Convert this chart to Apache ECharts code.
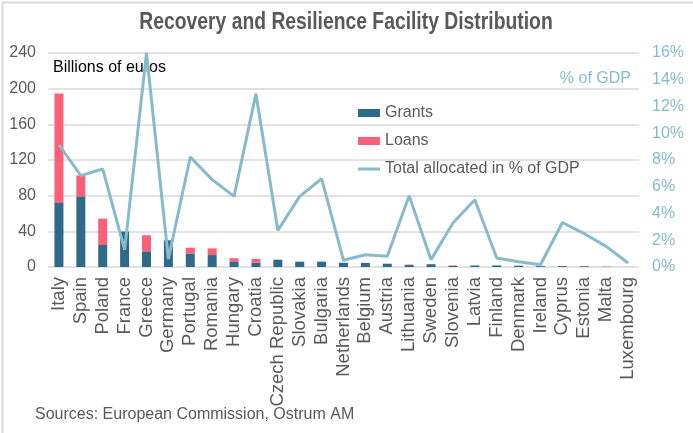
<!DOCTYPE html>
<html>
<head>
<meta charset="utf-8">
<script src="https://cdn.jsdelivr.net/npm/echarts@6/dist/echarts.min.js"></script>
<style>
html,body{margin:0;padding:0;background:#fff;}
#chart{width:693px;height:433px;}
</style>
</head>
<body>
<div id="chart"></div>
<script>
var categories = ["Italy","Spain","Poland","France","Greece","Germany","Portugal","Romania","Hungary","Croatia","Czech Republic","Slovakia","Bulgaria","Netherlands","Belgium","Austria","Lithuania","Sweden","Slovenia","Latvia","Finland","Denmark","Ireland","Cyprus","Estonia","Malta","Luxembourg"];
var grants = [71.8, 79.2, 24.7, 39.8, 17.6, 29.9, 15.2, 13.4, 6.3, 4.8, 8.2, 6.0, 6.0, 4.7, 4.6, 3.7, 2.2, 3.1, 1.2, 1.7, 1.8, 1.5, 0.9, 1.0, 0.9, 0.3, 0.1];
var loans = [122.8, 23.5, 29.5, 0, 18.0, 0, 6.4, 7.5, 3.6, 4.3, 0, 0, 0, 0, 0, 0, 0.5, 0, 0.6, 0, 0, 0, 0, 0.2, 0, 0, 0];
var pctGDP = [9.14, 6.83, 7.33, 1.29, 16.0, 0.6, 8.22, 6.53, 5.28, 12.96, 2.74, 5.28, 6.6, 0.5, 0.92, 0.8, 5.33, 0.55, 3.29, 5.03, 0.67, 0.4, 0.17, 3.33, 2.49, 1.54, 0.3];
var leftTicks = [0, 40, 80, 120, 160, 200, 240];
var rightTicks = [0, 2, 4, 6, 8, 10, 12, 14, 16];

var FONT = "Liberation Sans";
var GRAY = "#595959";
var BLUE = "#87BBCC";

var chart = echarts.init(document.getElementById('chart'), null, {renderer: 'canvas'});
chart.setOption({
  animation: false,
  backgroundColor: '#ffffff',
  textStyle: {fontFamily: FONT},
  legend: [
    {
      orient: 'vertical', left: 353, top: 100,
      itemWidth: 22, itemHeight: 8, itemGap: 12, icon: 'rect',
      textStyle: {fontFamily: FONT, fontSize: 16, color: GRAY},
      data: ['Grants', 'Loans']
    },
    {
      orient: 'vertical', left: 353, top: 156,
      itemWidth: 22, itemHeight: 3, icon: 'rect',
      textStyle: {fontFamily: FONT, fontSize: 16, color: GRAY},
      data: ['Total allocated in % of GDP']
    }
  ],
  grid: {left: 48, right: 54, top: 53, bottom: 166, containLabel: false},
  xAxis: {
    type: 'category',
    data: categories,
    axisLine: {show: false},
    axisTick: {show: false},
    axisLabel: {rotate: 90, interval: 0, fontFamily: FONT, fontSize: 18.5, color: GRAY, margin: 10}
  },
  yAxis: [
    {
      type: 'value', min: leftTicks[0], max: leftTicks[leftTicks.length - 1], interval: 40,
      axisLine: {show: false}, axisTick: {show: false},
      axisLabel: {fontFamily: FONT, fontSize: 16, color: GRAY, margin: 12},
      splitLine: {lineStyle: {color: '#d9d9d9', width: 1.5}}
    },
    {
      type: 'value', min: rightTicks[0], max: rightTicks[rightTicks.length - 1], interval: 2,
      axisLine: {show: false}, axisTick: {show: false},
      axisLabel: {fontFamily: FONT, fontSize: 16, color: BLUE, margin: 13, formatter: '{value}%'},
      splitLine: {show: false}
    }
  ],
  series: [
    {name: 'Grants', type: 'bar', stack: 'rrf', data: grants, barWidth: 9, itemStyle: {color: '#2F6A88'}},
    {name: 'Loans', type: 'bar', stack: 'rrf', data: loans, barWidth: 9, itemStyle: {color: '#FC6079'}},
    {name: 'Total allocated in % of GDP', type: 'line', yAxisIndex: 1, data: pctGDP,
     symbol: 'none', showSymbol: false, lineStyle: {color: BLUE, width: 3}, itemStyle: {color: BLUE}, z: 5}
  ],
  graphic: [
    {type: 'rect', left: 0, top: 0, shape: {x: 0, y: 0, width: 692, height: 432}, style: {fill: 'none', stroke: '#d9d9d9', lineWidth: 2}, silent: true},
    {type: 'text', x: 346, y: 23, scaleX: 0.84, style: {text: 'Recovery and Resilience Facility Distribution', fontFamily: FONT, fontWeight: 'bold', fontSize: 23, fill: GRAY, align: 'center', verticalAlign: 'middle'}},
    {type: 'text', left: 53, top: 60, style: {text: 'Billions of euros', fontFamily: FONT, fontSize: 16, fill: '#000000'}},
    {type: 'text', right: 62, top: 71, style: {text: '% of GDP', fontFamily: FONT, fontSize: 16, fill: BLUE}},
    {type: 'text', left: 35, top: 407, style: {text: 'Sources: European Commission, Ostrum AM', fontFamily: FONT, fontSize: 16, fill: GRAY}}
  ]
});
</script>
</body>
</html>
